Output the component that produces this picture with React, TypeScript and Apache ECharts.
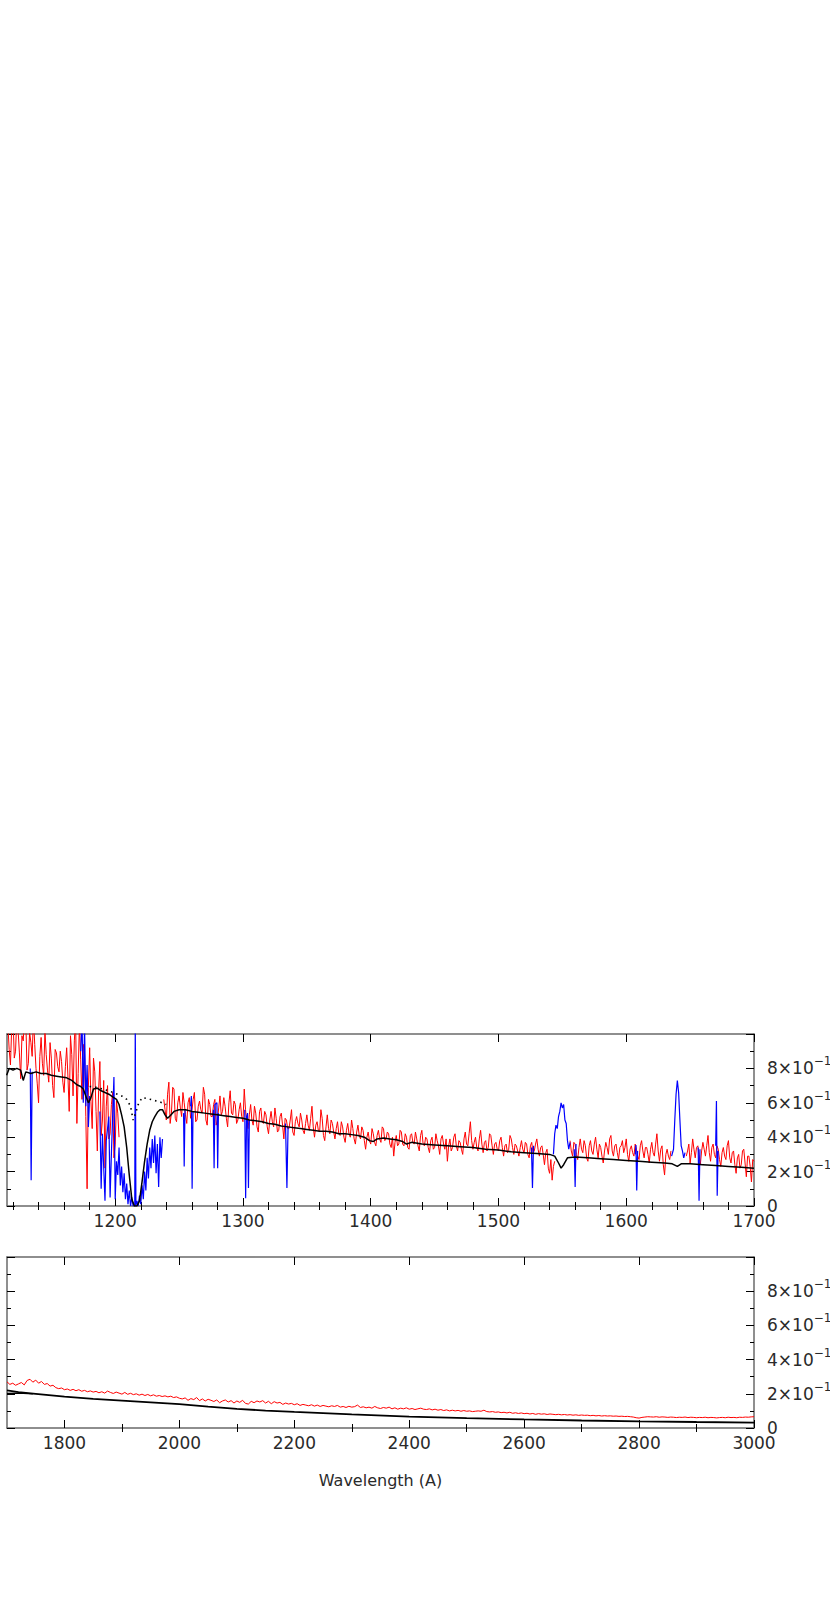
import React, { useEffect, useRef } from "react";
import * as echarts from "echarts";

// ---------- axis ticks ----------
const topMajorTicks = [1200, 1300, 1400, 1500, 1600, 1700];
const topMinorTicks = [1120, 1140, 1160, 1180, 1220, 1240, 1260, 1280, 1320, 1340, 1360, 1380, 1420, 1440, 1460, 1480, 1520, 1540, 1560, 1580, 1620, 1640, 1660, 1680];
const bottomMajorTicks = [1800, 2000, 2200, 2400, 2600, 2800, 3000];
const bottomMinorTicks = [1900, 2100, 2300, 2500, 2700, 2900];
const fluxLabelValues = [0, 2, 4, 6, 8];
const fluxExponent = "−15";
const xAxisTitle = "Wavelength (A)";

// ---------- top panel: observed spectrum (red), step 1 A from 1116 ----------
const topRedStart = 1116;
const topRedStep = 1;
const topRedFlux: (number | null)[] = [
  10.5, 9.1, 8.2, 10.4, 11, 8.6, 9.0, 11, 10.2, 8.9, 7.4, 9.9, 9.6, 11, 10.8, 7.9, 8.3, 10.1, 9.5, 8.7, // 1116
  11, 9.4, 8.0, 7.1, 6.0, 8.7, 9.8, 8.3, 7.6, 10.2, 8.8, 7.9, 7.2, 9.5, 8.6, 7.0, 6.3, 9.1, 8.9, 8.1, // 1136
  7.8, 9.0, 8.4, 7.2, 6.6, 8.1, 9.2, 7.5, 5.5, 9.9, 8.8, 6.4, 9.6, 11, 4.8, 7.7, 10.6, 8.5, 6.2, 9.4, // 1156
  8.8, 5.2, 1.0, 6.9, 9.2, 6.1, 4.5, 8.6, 7.8, 5.5, 3.2, 6.7, 8.4, 4.1, 5.0, 7.3, 2.2, 5.8, 7.0, 3.9, // 1176
  4.2, 5.9, 6.6, 2.8, 3.6, 6.1, 5.4, 4.0, null, null, null, null, null, null, null, null, null, null, null, null, // 1196
  null, null, null, null, null, null, null, null, null, null, null, null, null, null, null, null, null, null, null, null, // 1216
  null, null, 6.2, 5.6, 5.0, 6.5, 7.2, 4.8, 5.4, 6.9, 6.8, 5.1, 4.9, 6.0, 6.4, 5.7, 5.2, 6.6, 6.0, 5.3, // 1236
  4.8, 6.0, 6.3, 5.1, 5.5, 6.2, 6.6, 4.9, 5.0, 5.8, 6.1, 5.6, 5.4, 6.9, 6.5, 5.0, 4.7, 6.2, 5.9, 5.2, // 1256
  5.2, 5.9, 6.2, 4.7, 5.0, 5.7, 6.4, 5.3, 5.5, 6.3, 5.8, 5.1, 4.6, 6.0, 6.7, 5.4, 5.3, 6.1, 5.9, 4.8, // 1276
  5.0, 5.6, 6.0, 5.2, 4.9, 6.8, 5.6, 4.8, 4.5, 5.3, 5.9, 5.0, 4.7, 5.8, 5.4, 4.6, 4.3, 5.5, 5.7, 4.9, // 1296
  4.8, 5.5, 5.3, 4.6, 4.2, 5.0, 5.5, 4.9, 4.6, 5.7, 5.1, 4.3, 4.4, 5.2, 5.4, 4.7, 3.9, 5.1, 5.0, 4.5, // 1316
  4.5, 5.0, 5.6, 4.3, 4.1, 4.9, 5.2, 4.8, 4.6, 5.4, 5.0, 4.4, 4.2, 4.8, 5.3, 4.7, 4.4, 5.1, 5.8, 4.6, // 1336
  4.0, 4.7, 4.9, 4.4, 4.3, 5.6, 5.1, 4.1, 3.8, 4.6, 5.3, 4.5, 4.2, 5.0, 4.8, 4.3, 3.9, 4.5, 4.9, 4.2, // 1356
  4.1, 4.9, 4.6, 4.0, 3.7, 4.4, 4.8, 4.2, 4.0, 5.0, 4.5, 3.9, 3.6, 4.3, 4.7, 4.1, 3.9, 4.6, 4.4, 3.8, // 1376
  3.3, 4.0, 4.3, 3.8, 3.6, 4.5, 4.2, 3.7, 3.5, 4.1, 4.4, 3.9, 3.7, 4.6, 4.5, 3.8, 3.9, 4.3, 4.2, 3.6, // 1396
  3.4, 4.0, 2.9, 3.7, 4.1, 3.5, 3.6, 4.4, 4.3, 3.6, 3.5, 4.2, 4.0, 3.4, 3.3, 4.1, 4.2, 3.7, 3.6, 4.3, // 1416
  3.9, 3.5, 3.2, 4.1, 4.4, 3.6, 3.5, 4.0, 3.9, 3.4, 3.1, 3.8, 4.0, 3.3, 3.4, 4.2, 3.8, 3.5, 3.0, 3.9, // 1436
  4.1, 3.6, 3.3, 3.9, 2.6, 3.5, 3.9, 3.2, 3.4, 4.0, 4.2, 3.5, 3.2, 3.8, 3.7, 3.3, 3.0, 3.9, 4.3, 3.6, // 1456
  3.5, 4.2, 4.9, 3.8, 3.3, 3.7, 4.0, 3.4, 3.2, 3.9, 4.4, 3.6, 3.1, 3.7, 3.8, 3.2, 3.4, 4.2, 4.1, 3.5, // 1476
  3.0, 3.6, 3.7, 3.3, 3.2, 3.8, 4.0, 3.4, 2.9, 3.5, 3.6, 3.1, 3.3, 4.1, 3.9, 3.4, 3.0, 3.6, 3.5, 3.2, // 1496
  2.9, 3.4, 3.8, 3.3, 3.1, 3.7, 3.6, 3.0, 2.8, 3.5, 3.7, 3.1, 3.2, 3.6, 3.9, 3.3, 2.9, 3.4, 3.5, 3.0, // 1516
  2.4, 3.1, 3.3, 2.2, 1.9, 2.7, 1.5, 2.3, 2.6, null, null, null, null, null, null, null, null, null, null, null, // 1536
  3.8, 3.2, 2.9, 3.7, 3.6, 3.0, 2.7, 3.4, 3.9, 3.3, 3.1, 3.8, 3.5, 2.8, 2.6, 3.5, 3.8, 3.2, 3.0, 3.6, // 1556
  4.0, 3.3, 2.8, 3.6, 3.4, 2.9, 2.5, 3.2, 3.7, 3.4, 3.0, 3.9, 4.1, 3.2, 2.9, 3.5, 3.6, 3.1, 2.7, 3.4, // 1576
  3.5, 3.8, 3.1, 3.4, 3.9, 3.0, 2.6, 3.3, 3.5, 3.1, 2.9, 3.6, 3.3, 2.9, 2.7, 3.5, 3.8, 3.2, 2.8, 3.4, // 1596
  3.4, 3.0, 2.5, 3.3, 3.7, 3.1, 2.9, 3.6, 4.2, 3.2, 2.6, 3.3, 3.5, 2.4, 1.8, 3.0, 3.3, 2.9, 2.7, 3.2, // 1616
  null, null, null, null, null, null, null, null, null, null, null, 2.9, 3.2, 3.6, 2.5, 3.1, 3.9, 3.3, 2.8, 3.4, // 1636
  3.5, 3.0, 2.4, 3.2, 3.7, 3.3, 2.9, 3.5, 4.1, 3.1, 2.6, 3.4, 3.6, 3.0, 2.8, 3.5, 3.3, 2.7, 2.3, 3.1, // 1656
  3.4, 2.9, 2.7, 3.5, 3.8, 2.8, 2.5, 3.1, 3.2, 2.4, 1.9, 2.8, 3.0, 2.2, 2.4, 3.2, 3.3, 2.5, 1.7, 2.9, // 1676
  2.9, 2.3, 1.4, 2.7, 2.6, // 1696
];

// ---------- top panel: masked line regions (blue) ----------
const blueSegments: [number, number][][] = [
  [[1133.5, 8.0], [1134.2, 1.5], [1135, 7.8]],
  [[1173, 9.0], [1174, 11], [1175, 6.0], [1176, 10.5], [1177, 5.8], [1178, 8.2], [1179, 4.6], [1180, 6.4]],
  [
    [1188, 5.5], [1189, 1.0], [1190, 4.2], [1192, 0.3], [1193, 3.8], [1195, 5.2], [1196, 0.5], [1197, 3.0],
    [1199, 7.5], [1200, 0.4], [1201, 2.6], [1202, 1.8], [1203, 3.4], [1204, 1.2], [1205, 2.3], [1206, 0.8],
    [1207, 1.9], [1208, 0.4], [1209, 1.3], [1210, 0.1], [1211, 0.9], [1212, 0], [1213, 0.5], [1214, 0],
    [1215.3, 0], [1215.7, 11], [1216.2, 0], [1217, 0.3], [1218, 0], [1219, 0.6], [1220, 0.1], [1221, 1.2],
    [1222, 0.4], [1223, 2.0], [1224, 0.9], [1225, 2.8], [1226, 1.6], [1227, 3.4], [1228, 2.2], [1229, 3.9],
    [1230, 2.5], [1231, 4.1], [1232, 1.9], [1233, 3.6], [1234, 1.1], [1235, 4.0], [1236, 2.8], [1237, 3.9],
  ],
  [[1253.5, 5.4], [1254, 2.3], [1254.6, 5.6]],
  [[1259, 5.8], [1259.6, 6.4], [1260.2, 1.0], [1260.9, 5.5]],
  [[1276.8, 5.6], [1277.4, 2.2], [1278, 5.9], [1279.6, 6.0], [1280.2, 2.2], [1280.8, 5.4]],
  [[1301.4, 5.6], [1302.1, 0.45], [1302.8, 5.2], [1303.6, 5.4], [1304.3, 1.05], [1305, 5.0]],
  [[1333.3, 4.8], [1334.4, 1.05], [1335.3, 4.6]],
  [[1525.8, 3.4], [1526.6, 1.05], [1527.4, 3.5]],
  [
    [1543, 3.0], [1544, 4.2], [1545, 4.7], [1546, 4.5], [1547, 5.2], [1548, 5.5], [1549, 6.0],
    [1550, 5.7], [1551, 5.9], [1552, 5.0], [1553, 4.8], [1554, 3.8], [1555, 3.3], [1556, 3.7],
  ],
  [[1559.3, 3.3], [1560, 1.1], [1560.7, 3.6]],
  [[1607, 3.0], [1607.6, 3.55], [1608.2, 0.9], [1608.9, 3.2]],
  [
    [1635.5, 2.9], [1637, 3.3], [1638, 5.0], [1639, 6.5], [1640, 7.3], [1641, 6.6],
    [1642, 5.0], [1643, 3.5], [1644, 3.2], [1645, 2.8], [1646, 3.1],
  ],
  [[1656.3, 3.4], [1657, 0.3], [1657.7, 3.3]],
  [[1670, 3.5], [1670.6, 6.1], [1671.2, 0.6], [1671.9, 3.2]],
];

// ---------- top panel: model (black) ----------
const topModelWave = [
  1115, 1117, 1120, 1123, 1126, 1128, 1130, 1134, 1138, 1142, 1146, 1150, 1154, 1158, 1162, 1166, 1170, 1173,
  1175, 1177, 1179, 1181, 1183, 1186, 1189, 1192, 1195, 1198, 1201, 1203, 1205, 1207, 1209, 1211, 1213, 1215,
  1217, 1219, 1221, 1223, 1225, 1227, 1229, 1231, 1233, 1235, 1237, 1239, 1241, 1243, 1246, 1250, 1255, 1260,
  1265, 1270, 1275, 1280, 1285, 1290, 1295, 1300, 1305, 1310, 1315, 1320, 1325, 1330, 1335, 1340, 1345, 1350,
  1355, 1360, 1365, 1370, 1375, 1380, 1385, 1390, 1395, 1399, 1402, 1405, 1410, 1415, 1420, 1425, 1428, 1432,
  1440, 1450, 1460, 1470, 1480, 1490, 1500, 1510, 1520, 1530, 1540, 1544, 1547, 1549, 1551, 1554, 1560, 1570,
  1580, 1590, 1600, 1610, 1620, 1630, 1636, 1640, 1643, 1650, 1660, 1670, 1680, 1690, 1700,
];
const topModelFlux = [
  7.6, 8.0, 7.9, 8.0, 7.9, 7.3, 7.8, 7.7, 7.8, 7.7, 7.7, 7.6, 7.55, 7.5, 7.45, 7.3, 7.05, 6.95,
  6.8, 6.4, 6.0, 6.3, 6.8, 6.85, 6.7, 6.6, 6.5, 6.35, 6.2, 5.9, 5.3, 4.6, 3.4, 1.8, 0.4, 0,
  0, 0.3, 1.4, 2.6, 3.6, 4.4, 4.9, 5.2, 5.45, 5.6, 5.6, 5.3, 5.1, 5.25, 5.5, 5.6, 5.6, 5.5,
  5.45, 5.4, 5.35, 5.3, 5.25, 5.2, 5.15, 5.1, 5.0, 4.95, 4.9, 4.8, 4.75, 4.65, 4.6, 4.55, 4.5, 4.45,
  4.4, 4.35, 4.35, 4.3, 4.2, 4.2, 4.15, 4.1, 4.0, 3.8, 3.75, 3.9, 3.95, 3.9, 3.85, 3.75, 3.6, 3.7,
  3.6, 3.55, 3.5, 3.45, 3.4, 3.3, 3.25, 3.15, 3.1, 3.05, 3.0, 2.9, 2.5, 2.2, 2.4, 2.8, 2.85, 2.8,
  2.75, 2.7, 2.65, 2.6, 2.55, 2.5, 2.45, 2.3, 2.45, 2.45, 2.4, 2.35, 2.3, 2.25, 2.2,
];

// ---------- top panel: continuum without Lyman alpha (dotted) ----------
const dottedWave = [1180, 1185, 1190, 1195, 1200, 1205, 1209, 1212, 1214, 1216, 1218, 1221, 1225, 1230, 1235, 1240];
const dottedFlux = [6.95, 6.9, 6.8, 6.7, 6.55, 6.4, 6.2, 5.8, 5.0, 5.4, 5.9, 6.3, 6.25, 6.15, 6.05, 5.9];

// ---------- bottom panel: observed spectrum (red), step 5 A from 1700 ----------
const bottomRedStart = 1700;
const bottomRedStep = 5;
const bottomRedFlux = [
  2.70, 2.55, 2.62, 2.50, 2.58, 2.66, 2.52, 2.78, 2.85, 2.68, // 1700
  2.80, 2.62, 2.72, 2.55, 2.60, 2.45, 2.50, 2.36, 2.30, 2.34, // 1750
  2.24, 2.28, 2.20, 2.26, 2.18, 2.24, 2.15, 2.20, 2.12, 2.17, // 1800
  2.10, 2.14, 2.06, 2.12, 2.04, 2.16, 2.08, 2.02, 2.10, 2.04, // 1850
  1.98, 2.08, 1.97, 2.03, 1.95, 2.00, 1.92, 1.98, 1.90, 1.96, // 1900
  1.88, 1.94, 1.86, 1.90, 1.84, 1.88, 1.82, 1.86, 1.78, 1.82, // 1950
  1.74, 1.70, 1.76, 1.62, 1.72, 1.66, 1.78, 1.60, 1.70, 1.58, // 2000
  1.68, 1.62, 1.55, 1.64, 1.48, 1.58, 1.64, 1.52, 1.60, 1.46, // 2050
  1.58, 1.50, 1.62, 1.44, 1.40, 1.56, 1.48, 1.58, 1.52, 1.60, // 2100
  1.46, 1.56, 1.42, 1.54, 1.46, 1.50, 1.38, 1.46, 1.40, 1.44, // 2150
  1.36, 1.42, 1.32, 1.38, 1.34, 1.30, 1.36, 1.28, 1.34, 1.26, // 2200
  1.32, 1.28, 1.24, 1.30, 1.26, 1.32, 1.22, 1.26, 1.20, 1.27, // 2250
  1.22, 1.25, 1.34, 1.20, 1.24, 1.18, 1.22, 1.16, 1.26, 1.18, // 2300
  1.14, 1.20, 1.16, 1.22, 1.12, 1.18, 1.10, 1.16, 1.12, 1.18, // 2350
  1.10, 1.14, 1.08, 1.12, 1.16, 1.10, 1.08, 1.12, 1.06, 1.10, // 2400
  1.04, 1.08, 1.02, 1.06, 1.00, 1.04, 1.00, 1.03, 0.98, 1.02, // 2450
  0.98, 1.00, 0.96, 0.98, 1.00, 0.98, 1.04, 0.96, 0.94, 0.96, // 2500
  0.92, 0.94, 0.90, 0.92, 0.88, 0.92, 0.86, 0.89, 0.85, 0.88, // 2550
  0.84, 0.86, 0.82, 0.85, 0.80, 0.84, 0.81, 0.83, 0.79, 0.82, // 2600
  0.80, 0.78, 0.80, 0.77, 0.79, 0.76, 0.78, 0.75, 0.77, 0.74, // 2650
  0.76, 0.74, 0.75, 0.72, 0.74, 0.71, 0.73, 0.70, 0.72, 0.70, // 2700
  0.71, 0.69, 0.70, 0.68, 0.69, 0.67, 0.68, 0.66, 0.64, 0.60, // 2750
  0.58, 0.62, 0.64, 0.66, 0.65, 0.64, 0.66, 0.63, 0.65, 0.64, // 2800
  0.62, 0.64, 0.63, 0.61, 0.63, 0.62, 0.64, 0.61, 0.63, 0.62, // 2850
  0.60, 0.62, 0.61, 0.63, 0.60, 0.62, 0.61, 0.59, 0.61, 0.62, // 2900
  0.60, 0.63, 0.61, 0.62, 0.60, 0.63, 0.62, 0.64, 0.63, 0.65, // 2950
  0.66, // 3000
];

// ---------- bottom panel: model (black) ----------
const bottomModelWave = [1700, 1720, 1750, 1800, 1850, 1900, 1950, 2000, 2050, 2100, 2150, 2200, 2300, 2400, 2500, 2600, 2700, 2800, 2900, 3000];
const bottomModelFlux = [2.2, 2.1, 2.0, 1.83, 1.7, 1.6, 1.5, 1.4, 1.25, 1.12, 1.02, 0.94, 0.8, 0.67, 0.58, 0.5, 0.44, 0.39, 0.35, 0.32];
const bottomModelAltWave = [1700, 1720, 1745];
const bottomModelAltFlux = [2.02, 2.04, 2.0];

// ---------- styling ----------
const FONT = "'DejaVu Sans', 'Liberation Sans', sans-serif";
const TEXT_COLOR = "#2a2a2a";
const frameLine = { show: true, onZero: false, lineStyle: { color: "#6a6a6a", width: 1.5 } };
const tickLine = { color: "#000", width: 1 };

function pairs(wave: number[], flux: number[]) {
  return wave.map((w, i) => [w, flux[i]]);
}
function gridded(start: number, step: number, flux: (number | null)[]) {
  return flux.map((f, i) => [start + i * step, f == null ? "-" : f]);
}

function makeXAxes(gridIndex: number, min: number, max: number, majors: number[], minors: number[], withName: boolean) {
  const base = { type: "value", gridIndex, min, max, splitLine: { show: false }, minorSplitLine: { show: false } };
  return [
    {
      ...base,
      position: "bottom",
      axisLine: frameLine,
      axisTick: { show: true, inside: true, length: 8, customValues: majors, lineStyle: tickLine },
      axisLabel: {
        show: true,
        customValues: majors,
        margin: 6,
        hideOverlap: false,
        fontSize: 17,
        fontFamily: FONT,
        color: TEXT_COLOR,
        formatter: (v: number) => String(v),
      },
      ...(withName
        ? {
            name: xAxisTitle,
            nameLocation: "middle",
            nameGap: 44,
            nameTextStyle: { fontSize: 16, fontFamily: FONT, color: TEXT_COLOR },
          }
        : {}),
    },
    {
      ...base,
      position: "bottom",
      axisLine: { show: false },
      axisTick: { show: true, inside: true, length: 4, customValues: minors, lineStyle: tickLine },
      axisLabel: { show: false },
    },
    {
      ...base,
      position: "top",
      axisLine: frameLine,
      axisTick: { show: true, inside: true, length: 8, customValues: majors, lineStyle: tickLine },
      axisLabel: { show: false },
    },
    {
      ...base,
      position: "top",
      axisLine: { show: false },
      axisTick: { show: true, inside: true, length: 4, customValues: minors, lineStyle: tickLine },
      axisLabel: { show: false },
    },
  ];
}

function makeYAxes(gridIndex: number) {
  const base = {
    type: "value",
    gridIndex,
    min: 0,
    max: 10,
    interval: 2,
    splitLine: { show: false },
    minorSplitLine: { show: false },
    axisLine: frameLine,
    axisTick: { show: true, inside: true, length: 8, lineStyle: tickLine },
    minorTick: { show: true, splitNumber: 2, length: 4, lineStyle: tickLine },
  };
  return [
    { ...base, position: "left", axisLabel: { show: false } },
    {
      ...base,
      position: "right",
      axisLabel: {
        show: true,
        customValues: fluxLabelValues,
        margin: 13,
        hideOverlap: false,
        fontSize: 17,
        fontFamily: FONT,
        color: TEXT_COLOR,
        formatter: (v: number) => (v === 0 ? "{b|0}" : `{b|${v}×10}{s|${fluxExponent}}`),
        rich: {
          b: { fontSize: 17, fontFamily: FONT, color: TEXT_COLOR, lineHeight: 26 },
          s: { fontSize: 12, fontFamily: FONT, color: TEXT_COLOR, lineHeight: 10, verticalAlign: "top" },
        },
      },
    },
  ];
}

function lineSeries(name: string, data: any[], color: string, width: number, xAxisIndex: number, yAxisIndex: number, z: number, dash?: any) {
  return {
    type: "line",
    name,
    data,
    xAxisIndex,
    yAxisIndex,
    symbol: "none",
    showSymbol: false,
    silent: true,
    clip: true,
    connectNulls: false,
    z,
    lineStyle: { color, width, type: dash || "solid" },
    itemStyle: { color },
    emphasis: { disabled: true },
  };
}

function buildOption() {
  const series: any[] = [];
  series.push(lineSeries("observed", gridded(topRedStart, topRedStep, topRedFlux), "#ff0000", 1, 0, 0, 2));
  blueSegments.forEach((seg, i) => series.push(lineSeries(`masked${i}`, seg, "#0000ff", 1.2, 0, 0, 3)));
  series.push(lineSeries("continuum", pairs(dottedWave, dottedFlux), "#000000", 1.6, 0, 0, 4, [1.5, 4]));
  series.push(lineSeries("model", pairs(topModelWave, topModelFlux), "#000000", 1.5, 0, 0, 5));
  series.push(lineSeries("observed2", gridded(bottomRedStart, bottomRedStep, bottomRedFlux), "#ff0000", 1, 4, 2, 2));
  series.push(lineSeries("model2", pairs(bottomModelWave, bottomModelFlux), "#000000", 1.8, 4, 2, 5));
  series.push(lineSeries("model2b", pairs(bottomModelAltWave, bottomModelAltFlux), "#000000", 1.2, 4, 2, 5));

  return {
    animation: false,
    backgroundColor: "#ffffff",
    textStyle: { fontFamily: FONT },
    grid: [
      { left: 7, top: 1034, width: 747, height: 172, containLabel: false, outerBoundsMode: "none" },
      { left: 7, top: 1257, width: 747, height: 171, containLabel: false, outerBoundsMode: "none" },
    ],
    xAxis: [
      ...makeXAxes(0, 1115.3, 1700, topMajorTicks, topMinorTicks, false),
      ...makeXAxes(1, 1700, 3000, bottomMajorTicks, bottomMinorTicks, true),
    ],
    yAxis: [...makeYAxes(0), ...makeYAxes(1)],
    series,
  };
}

export default function App() {
  const ref = useRef<HTMLDivElement>(null);
  useEffect(() => {
    if (!ref.current) return;
    const chart = echarts.init(ref.current, null, { renderer: "svg" });
    chart.setOption(buildOption() as any);
    return () => chart.dispose();
  }, []);
  return (
    <div
      ref={ref}
      style={{ position: "absolute", left: 0, top: 0, width: 830, height: 1604, background: "#fff" }}
    />
  );
}
